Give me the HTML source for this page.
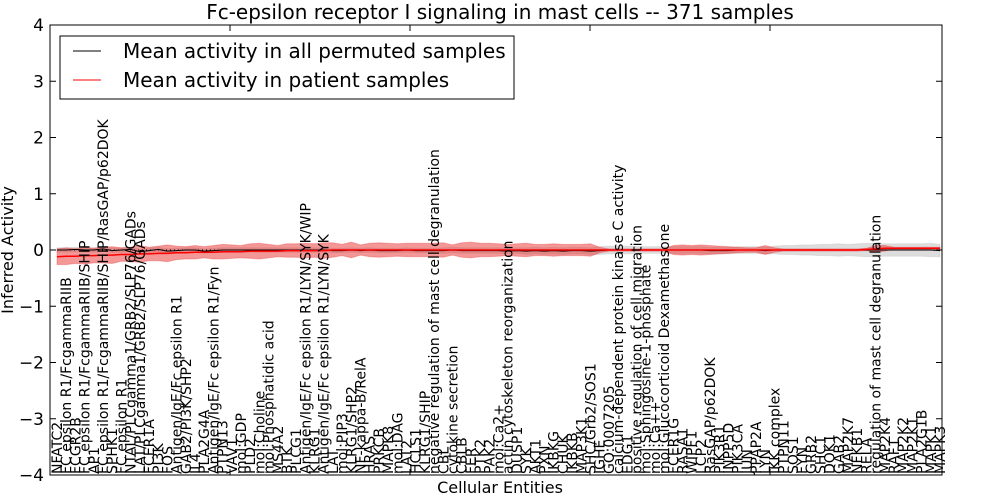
<!DOCTYPE html>
<html><head><meta charset="utf-8"><style>
body{margin:0;background:#fff;}
svg{display:block;font-family:"DejaVu Sans","Liberation Sans",sans-serif;}
</style></head><body>
<svg id="chart" width="1000" height="500" viewBox="0 0 1000 500">
<text x="500" y="19" font-size="20" text-anchor="middle">Fc-epsilon receptor I signaling in mast cells -- 371 samples</text>
<text transform="translate(13,250) rotate(-90)" font-size="16" text-anchor="middle">Inferred Activity</text>
<text x="500" y="493" font-size="16" text-anchor="middle">Cellular Entities</text>
<g id="plot"></g>
<g id="legend">
<rect x="60" y="36" width="454" height="63" fill="#fff" stroke="#000" stroke-width="1"/>
<line x1="73" y1="51" x2="101" y2="51" stroke="#000" stroke-width="1"/>
<text x="123" y="58" font-size="20">Mean activity in all permuted samples</text>
<line x1="73" y1="80" x2="101" y2="80" stroke="#f00" stroke-width="1"/>
<text x="123" y="87" font-size="20">Mean activity in patient samples</text>
</g>
</svg>
<script>
const categories=["NFATC2","FC epsilon R1/FcgammaRIIB","FCGR2B","FC epsilon R1/FcgammaRIIB/SHIP","AP1","FC epsilon R1/FcgammaRIIB/SHIP/RasGAP/p62DOK","SPHK1","FC epsilon R1","NTAL/PLCgamma1/GRB2/SLP76/GADs","LAT/PLCgamma1/GRB2/SLP76/GADs","FCER1A","PI3K","FOS","Antigen/IgE/Fc epsilon R1","GAB2/PI3K/SHP2","IL4","PLA2G4A","Antigen/IgE/Fc epsilon R1/Fyn","PTPN13","VAV1","mol:GDP","PLD2","mol:Choline","mol:Phosphatidic acid","MS4A2","BTK","PLCG1","Antigen/IgE/Fc epsilon R1/LYN/SYK/WIP","KLRG1","Antigen/IgE/Fc epsilon R1/LYN/SYK","LAT","mol:PIP3","KLRG1/SHP2","NF-kappa-B/RelA","HRAS","PRKCB","MAPK8","mol:DAG","LAT2","HCLS1","KLRG1/SHIP","negative regulation of mast cell degranulation","CBL","cytokine secretion","CBLB","FER","PTK2","PAK2","mol:Ca2+","actin cytoskeleton reorganization","DUSP1","SYK","AKT1","PXN","IKBKG","CHUK","IKBKB","MAP3K1","SHC/Grb2/SOS1","IGHE","GO:0007205","calcium-dependent protein kinase C activity","EDG1","positive regulation of cell migration","mol:Sphingosine-1-phosphate","mol:Ca++","mol:Glucocorticoid Dexamethasone","FCER1G","RASA1","WIPF1","LCP2","RasGAP/p62DOK","PIK3R1","INPP5D","PIK3CA","JUN","PPAP2A","LYN","IKK complex","PTPN11","SOS1","FYN","GRB2","SHC1","DOK1","GAB2","MAP2K7","NFKB1","RELA","regulation of mast cell degranulation","MAP2K4","RAF1","MAP2K2","MAP2K1","PLA2G1B","MAPK1","MAPK3"];
const redMean=[-0.12,-0.11,-0.11,-0.1,-0.1,-0.09,-0.09,-0.08,-0.08,-0.07,-0.07,-0.06,-0.06,-0.05,-0.05,-0.04,-0.04,-0.04,-0.03,-0.03,-0.03,-0.02,-0.02,-0.02,-0.02,-0.01,-0.01,-0.01,-0.01,-0.01,0,0,0,0,0,0,0,0,0,0,0,0,0,0,0,0,0,0,0,0,0,0,0,0,0,0,0,0,0,0,0,0,0,0,0,0,0,0,0,0,0,0,0,0,0,0,0,0,0,0,0,0,0,0,0,0,0,0,0.01,0.02,0.03,0.03,0.03,0.03,0.03,0.03,0.03];
const redSd=[0.14,0.15,0.13,0.15,0.13,0.14,0.15,0.12,0.13,0.15,0.12,0.13,0.15,0.12,0.11,0.12,0.1,0.12,0.13,0.12,0.11,0.13,0.14,0.12,0.1,0.12,0.12,0.13,0.12,0.14,0.13,0.1,0.14,0.09,0.12,0.13,0.12,0.11,0.12,0.12,0.12,0.12,0.13,0.09,0.13,0.14,0.12,0.12,0.11,0.1,0.11,0.12,0.1,0.1,0.11,0.1,0.1,0.1,0.11,0.05,0.02,0.02,0.02,0.02,0.02,0.02,0.02,0.08,0.09,0.08,0.09,0.08,0.07,0.06,0.05,0.04,0.04,0.08,0.04,0.02,0.02,0.02,0.02,0.02,0.02,0.02,0.02,0.02,0.02,0.06,0.05,0.02,0.02,0.02,0.02,0.02,0.02];
const permMean=[0,0,0.01,0,0,0.02,-0.01,0,0.01,-0.03,-0.01,0.01,-0.02,-0.01,0,0,-0.02,-0.01,0,0,0,0,0,0,0,0,0,0,0,0,-0.01,-0.01,0,-0.01,0,-0.01,-0.01,-0.01,0,-0.01,-0.01,-0.01,-0.01,0,-0.01,-0.01,-0.01,-0.01,-0.01,-0.02,-0.01,-0.02,-0.01,-0.02,-0.01,-0.02,-0.01,-0.01,-0.02,-0.01,0,0,0,0,0,0,0,0,0,0,0,-0.01,-0.01,-0.01,0,0,0,-0.01,0,0,0,0,0,0,0,0,0,0,0,0,0,0,0,0,0,0,-0.01];
const permSd=[0.04,0.04,0.04,0.04,0.04,0.04,0.04,0.04,0.04,0.04,0.04,0.04,0.04,0.04,0.04,0.04,0.04,0.04,0.04,0.04,0.04,0.04,0.04,0.04,0.04,0.04,0.04,0.04,0.04,0.04,0.04,0.04,0.04,0.04,0.04,0.04,0.04,0.04,0.04,0.04,0.04,0.04,0.05,0.05,0.05,0.05,0.05,0.05,0.05,0.05,0.05,0.06,0.06,0.06,0.06,0.06,0.06,0.06,0.06,0.07,0.07,0.07,0.07,0.06,0.06,0.06,0.06,0.06,0.06,0.06,0.06,0.06,0.06,0.06,0.06,0.06,0.06,0.06,0.07,0.08,0.08,0.09,0.09,0.1,0.1,0.11,0.1,0.11,0.12,0.12,0.11,0.11,0.11,0.11,0.11,0.12,0.11];
const yTicks=[4,3,2,1,0,-1,-2,-3,-4];
const topTicks=[20,40,60,80];

const NS="http://www.w3.org/2000/svg";
const L=50,R=942,T=25,B=475,YMIN=-4,YMAX=4;
const N=categories.length;
const x0=57,x1=940;
function xs(i){return x0+i*(x1-x0)/(N-1);}
function ys(v){return B-(v-YMIN)/(YMAX-YMIN)*(B-T);}
function xt(t){return L+t*9;}
const g=document.getElementById('plot');
function mk(tag,attrs){const e=document.createElementNS(NS,tag);for(const k in attrs)e.setAttribute(k,attrs[k]);g.appendChild(e);return e;}
function band(mean,sd,fill,op){let p="";for(let i=0;i<N;i++)p+=(i?"L":"M")+xs(i).toFixed(1)+","+ys(mean[i]+sd[i]).toFixed(1);for(let i=N-1;i>=0;i--)p+="L"+xs(i).toFixed(1)+","+ys(mean[i]-sd[i]).toFixed(1);return mk('path',{d:p+"Z",fill:fill,'fill-opacity':op,stroke:fill,'stroke-opacity':op*0.6});}
function line(mean,col,w){let p="";for(let i=0;i<N;i++)p+=(i?"L":"M")+xs(i).toFixed(1)+","+ys(mean[i]).toFixed(1);return mk('path',{d:p,fill:"none",stroke:col,'stroke-width':w});}

const gb=band(permMean,permSd,"#aaaaaa",0.4);


const rb=band(redMean,redSd,"#e83030",0.5);


const zl=mk('line',{x1:L,x2:R,y1:ys(0),y2:ys(0),stroke:"#000",'stroke-dasharray':"1,3"});


const bl=line(permMean,"#000",1);


const rl=line(redMean,"#f00",1.5);



const fr=mk('rect',{x:L,y:T,width:R-L,height:B-T,fill:"none",stroke:"#000",'stroke-width':1});


yTicks.forEach(v=>{
  const y=ys(v);
  const t1=mk('line',{x1:L,x2:L+6,y1:y,y2:y,stroke:"#000"});
  
  
  const t2=mk('line',{x1:R-6,x2:R,y1:y,y2:y,stroke:"#000"});
  
  
  const tx=mk('text',{x:44,y:y+6,'font-size':17,'text-anchor':'end'});
  tx.textContent=String(v).replace('-','\u2212');
  
  
});
topTicks.forEach(t=>{
  const a=mk('line',{x1:xt(t),x2:xt(t),y1:T,y2:T+6,stroke:"#000"});
  
  
  const b=mk('line',{x1:xt(t),x2:xt(t),y1:B-6,y2:B,stroke:"#000"});
  
  
});
categories.forEach((c,i)=>{
  const x=xs(i)+5;
  const tx=mk('text',{transform:`translate(${x.toFixed(1)},${B-1}) rotate(-90)`,'font-size':14,'text-anchor':'start'});
  tx.textContent=c;
  
  
});
</script>
</body></html>
